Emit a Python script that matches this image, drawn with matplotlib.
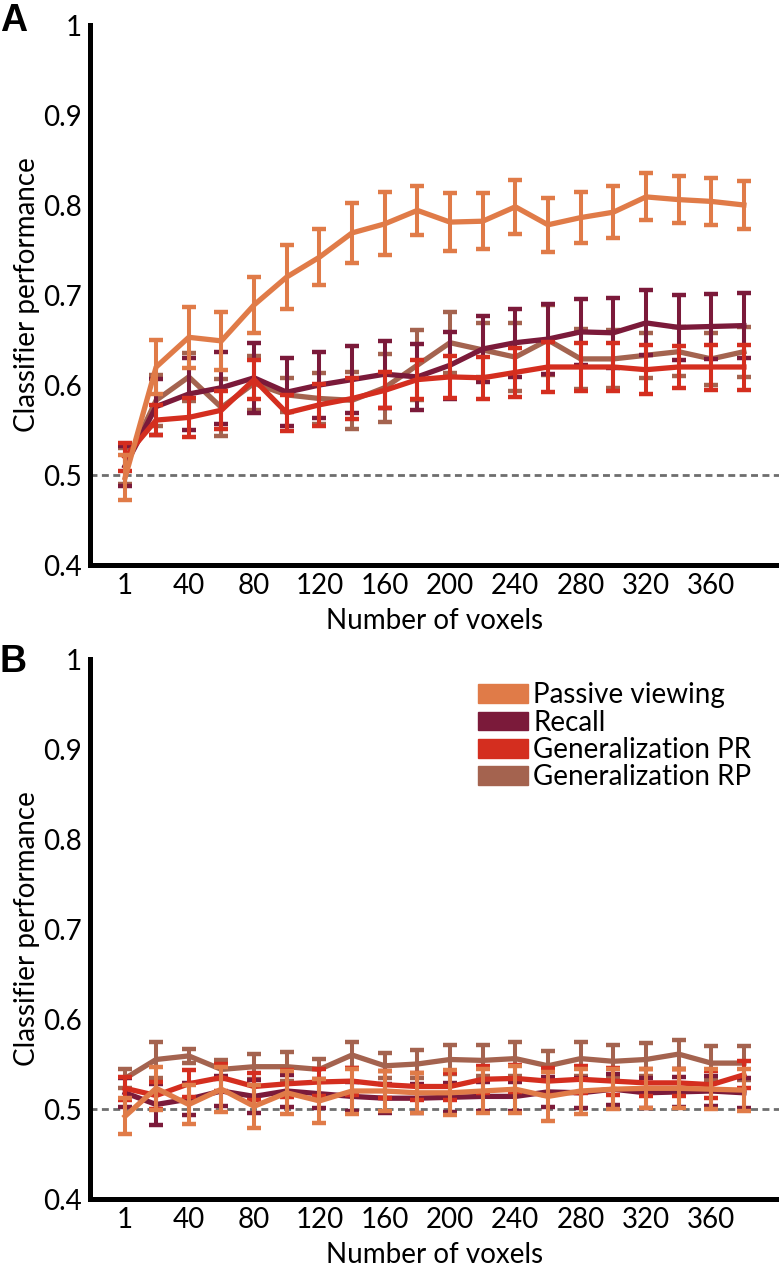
import numpy as np
from matplotlib import pyplot as plt
from matplotlib.patches import Patch

plt.rcParams['font.family'] = ['Lato', 'DejaVu Sans']

voxels = [1, 20, 40, 60, 80, 100, 120, 140, 160, 180, 200,
          220, 240, 260, 280, 300, 320, 340, 360, 380]
xticks = [1, 40, 80, 120, 160, 200, 240, 280, 320, 360]

labels = ["Passive viewing", "Recall", "Generalization PR", "Generalization RP"]
colors = ["#E07B48", "#7B1A3A", "#D42E1F", "#A4634F"]

# panel A: means and error half-widths
a_passive = [0.497, 0.620, 0.653, 0.649, 0.689, 0.720, 0.742, 0.769, 0.779, 0.794,
             0.781, 0.782, 0.798, 0.778, 0.786, 0.792, 0.809, 0.806, 0.804, 0.800]
a_passive_err = [0.025, 0.030, 0.034, 0.032, 0.031, 0.036, 0.031, 0.033, 0.035, 0.027,
                 0.032, 0.031, 0.030, 0.030, 0.028, 0.029, 0.026, 0.026, 0.026, 0.027]
a_recall = [0.510, 0.576, 0.590, 0.597, 0.608, 0.592, 0.600, 0.606, 0.612, 0.609,
            0.622, 0.640, 0.647, 0.651, 0.659, 0.658, 0.669, 0.664, 0.665, 0.666]
a_recall_err = [0.022, 0.031, 0.040, 0.040, 0.039, 0.038, 0.037, 0.037, 0.037, 0.037,
                0.037, 0.037, 0.038, 0.039, 0.037, 0.039, 0.036, 0.036, 0.036, 0.036]
a_pr = [0.520, 0.561, 0.564, 0.572, 0.606, 0.569, 0.578, 0.585, 0.594, 0.606,
        0.609, 0.608, 0.614, 0.620, 0.620, 0.620, 0.617, 0.620, 0.620, 0.620]
a_pr_err = [0.016, 0.017, 0.022, 0.021, 0.022, 0.020, 0.023, 0.023, 0.020, 0.022,
            0.023, 0.023, 0.027, 0.028, 0.027, 0.027, 0.027, 0.023, 0.025, 0.025]
a_rp = [0.510, 0.583, 0.609, 0.575, 0.602, 0.589, 0.585, 0.583, 0.597, 0.622,
        0.647, 0.639, 0.631, 0.650, 0.629, 0.629, 0.633, 0.637, 0.629, 0.637]
a_rp_err = [0.020, 0.028, 0.027, 0.032, 0.030, 0.019, 0.028, 0.032, 0.038, 0.039,
            0.034, 0.030, 0.038, 0.039, 0.033, 0.032, 0.025, 0.027, 0.029, 0.028]

# panel B: means and error half-widths
b_passive = [0.492, 0.523, 0.505, 0.522, 0.503, 0.518, 0.509, 0.520, 0.520, 0.518,
             0.518, 0.520, 0.522, 0.514, 0.520, 0.522, 0.523, 0.523, 0.522, 0.521]
b_passive_err = [0.020, 0.024, 0.022, 0.025, 0.024, 0.024, 0.024, 0.025, 0.022, 0.022,
                 0.025, 0.024, 0.026, 0.027, 0.025, 0.022, 0.022, 0.022, 0.022, 0.023]
b_recall = [0.518, 0.505, 0.511, 0.520, 0.514, 0.520, 0.517, 0.514, 0.512, 0.512,
            0.513, 0.514, 0.514, 0.519, 0.518, 0.522, 0.518, 0.519, 0.520, 0.518]
b_recall_err = [0.016, 0.023, 0.018, 0.017, 0.018, 0.018, 0.016, 0.016, 0.016, 0.016,
                0.016, 0.016, 0.016, 0.017, 0.017, 0.017, 0.017, 0.017, 0.017, 0.017]
b_pr = [0.523, 0.515, 0.528, 0.535, 0.525, 0.528, 0.530, 0.531, 0.527, 0.525,
        0.525, 0.533, 0.534, 0.531, 0.533, 0.531, 0.529, 0.529, 0.527, 0.538]
b_pr_err = [0.013, 0.015, 0.015, 0.015, 0.015, 0.015, 0.015, 0.015, 0.015, 0.015,
            0.015, 0.015, 0.015, 0.015, 0.015, 0.015, 0.015, 0.015, 0.015, 0.015]
b_rp = [0.534, 0.555, 0.559, 0.544, 0.547, 0.547, 0.544, 0.560, 0.548, 0.550,
        0.555, 0.554, 0.556, 0.548, 0.556, 0.553, 0.555, 0.561, 0.551, 0.551]
b_rp_err = [0.011, 0.020, 0.008, 0.011, 0.014, 0.016, 0.012, 0.014, 0.014, 0.016,
            0.016, 0.017, 0.019, 0.016, 0.019, 0.018, 0.018, 0.016, 0.019, 0.019]

fig = plt.figure(figsize=(7.79, 12.8), dpi=100)
W, H = 779, 1280
axA = fig.add_axes([90 / W, (H - 565) / H, (W - 90) / W, 540 / H])
axB = fig.add_axes([90 / W, (H - 1199) / H, (W - 90) / W, 540 / H])


def draw_panel(ax, means, errs):
    # draw back to front: RP, Recall, PR, Passive
    for z, i in enumerate([3, 1, 2, 0]):
        ax.errorbar(voxels, means[i], yerr=errs[i], color=colors[i], lw=3.8,
                    elinewidth=2.9, capsize=4.8, capthick=3.2, zorder=3 + z)
    ax.axhline(0.5, color='#6e6e6e', lw=2.0, ls=(0, (2.5, 1.6)), zorder=2)
    ax.set_xlim(-20.5, 401.5)
    ax.set_ylim(0.4, 1.0)
    ax.set_xticks(xticks)
    ax.set_yticks([0.4, 0.5, 0.6, 0.7, 0.8, 0.9, 1.0])
    ax.set_yticklabels(["0.4", "0.5", "0.6", "0.7", "0.8", "0.9", "1"])
    ax.tick_params(length=0, labelsize=20, pad=6)
    for s in ['top', 'right']:
        ax.spines[s].set_visible(False)
    for s in ['left', 'bottom']:
        ax.spines[s].set_linewidth(3.6)
    ax.set_xlabel("Number of voxels", fontsize=20, labelpad=6)
    ax.set_ylabel("Classifier performance", fontsize=20, labelpad=2)


draw_panel(axA, [a_passive, a_recall, a_pr, a_rp],
           [a_passive_err, a_recall_err, a_pr_err, a_rp_err])
draw_panel(axB, [b_passive, b_recall, b_pr, b_rp],
           [b_passive_err, b_recall_err, b_pr_err, b_rp_err])

handles = [Patch(color=c) for c in colors]
axB.legend(handles, labels, loc='upper left', bbox_to_anchor=(0.563, 0.957),
           frameon=False, fontsize=20, handlelength=1.8, handleheight=0.65,
           handletextpad=0.2, labelspacing=0.05, borderaxespad=0, borderpad=0)

fig.text(0.0, 0.998, "A", fontsize=27, fontweight='bold', va='top', ha='left',
         family='Liberation Sans')
fig.text(0.0, 1 - 644 / H, "B", fontsize=27, fontweight='bold', va='top', ha='left',
         family='Liberation Sans')

plt.savefig('out.png', dpi=100)
